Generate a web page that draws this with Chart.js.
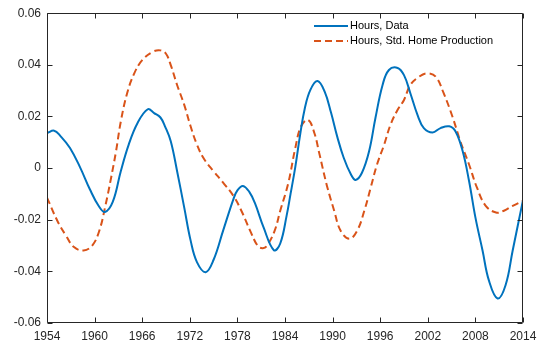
<!DOCTYPE html>
<html lang="en">
<head>
<meta charset="UTF-8">
<title>Hours: Data vs Std. Home Production</title>
<script src="https://cdn.jsdelivr.net/npm/chart.js"></script>
<style>
  html, body { margin: 0; padding: 0; background: #fff; }
  #wrap { width: 544px; height: 352px; }
</style>
</head>
<body>
<div id="wrap"><canvas id="hoursChart" width="544" height="352"></canvas></div>
<script>
// values
const dataYears = [1954.0, 1954.9, 1955.7, 1956.9, 1958.2, 1959.4, 1960.5, 1961.3, 1962.3, 1963.3,
  1964.3, 1965.4, 1966.7, 1967.5, 1968.3, 1968.9, 1969.6, 1970.4, 1971.3, 1972.1,
  1972.9, 1974.0, 1975.0, 1976.2, 1977.5, 1978.0, 1978.7, 1979.5, 1980.2, 1981.3,
  1982.6, 1983.4, 1984.2, 1984.7, 1985.3, 1985.9, 1986.5, 1987.2, 1988.1, 1989.0,
  1989.8, 1990.6, 1991.4, 1992.3, 1992.9, 1993.7, 1994.6, 1995.4, 1996.3, 1997.1,
  1998.2, 1999.0, 1999.8, 2000.7, 2001.5, 2002.6, 2003.6, 2004.7, 2005.5, 2006.4,
  2007.2, 2008.0, 2008.9, 2009.7, 2010.8, 2011.8, 2012.7, 2014.0];
const dataHours = [0.0136, 0.0145, 0.0124, 0.0078, 0.0001, -0.0082, -0.0146, -0.0170, -0.0130, -0.0012,
  0.0091, 0.0174, 0.0228, 0.0213, 0.0196, 0.0160, 0.0104, -0.0012, -0.0153, -0.0280,
  -0.0364, -0.0403, -0.0355, -0.0242, -0.0120, -0.0086, -0.0069, -0.0092, -0.0135, -0.0230,
  -0.0318, -0.0292, -0.0185, -0.0100, 0.0005, 0.0128, 0.0232, 0.0303, 0.0337, 0.0296,
  0.0215, 0.0120, 0.0040, -0.0024, -0.0046, -0.0018, 0.0065, 0.0194, 0.0322, 0.0380,
  0.0388, 0.0360, 0.0290, 0.0206, 0.0155, 0.0138, 0.0155, 0.0162, 0.0142, 0.0065,
  -0.0050, -0.0191, -0.0319, -0.0435, -0.0505, -0.0454, -0.0319, -0.0124];

const modelYears = [1954.0, 1955.3, 1956.4, 1957.4, 1958.6, 1959.7, 1960.6, 1961.4, 1962.0, 1962.7,
  1963.3, 1964.1, 1965.0, 1966.0, 1967.3, 1968.3, 1969.0, 1969.6, 1970.4, 1971.3,
  1972.1, 1972.9, 1973.8, 1975.0, 1976.2, 1977.5, 1978.5, 1979.6, 1980.6, 1981.2,
  1981.7, 1982.7, 1983.4, 1984.4, 1985.3, 1986.0, 1986.9, 1987.7, 1988.3, 1989.3,
  1990.2, 1991.0, 1992.1, 1993.1, 1994.0, 1994.8, 1995.6, 1996.5, 1997.3, 1998.2,
  1999.0, 1999.8, 2000.9, 2001.9, 2003.0, 2004.0, 2005.1, 2006.1, 2007.2, 2008.2,
  2009.3, 2010.6, 2011.6, 2012.7, 2014.0];
const modelHours = [-0.0114, -0.0204, -0.0262, -0.0306, -0.0319, -0.0300, -0.0242, -0.0140, -0.0050, 0.0065,
  0.0180, 0.0290, 0.0367, 0.0418, 0.0450, 0.0456, 0.0443, 0.0399, 0.0322, 0.0245,
  0.0162, 0.0091, 0.0035, -0.0012, -0.0056, -0.0108, -0.0165, -0.0242, -0.0303, -0.0310,
  -0.0302, -0.0242, -0.0165, -0.0060, 0.0078, 0.0160, 0.0187, 0.0136, 0.0060, -0.0070,
  -0.0165, -0.0242, -0.0274, -0.0242, -0.0165, -0.0076, 0.0014, 0.0091, 0.0168, 0.0226,
  0.0264, 0.0322, 0.0354, 0.0367, 0.0354, 0.0290, 0.0200, 0.0104, 0.0014, -0.0076,
  -0.0146, -0.0172, -0.0165, -0.0146, -0.0127];

const seriesLabels = ['Hours, Data', 'Hours, Std. Home Production'];
const xTicks = [1954, 1960, 1966, 1972, 1978, 1984, 1990, 1996, 2002, 2008, 2014];
const yTicks = [-0.06, -0.04, -0.02, 0, 0.02, 0.04, 0.06];

const AXIS = '#262626';
const FONT = 'Arial, "Liberation Sans", Helvetica, sans-serif';

function toPoints(xs, ys) {
  return xs.map((x, i) => ({ x: x, y: ys[i] }));
}

// MATLAB-style box: inward ticks on all four sides + legend inside the axes
const matlabBox = {
  id: 'matlabBox',
  afterDraw(chart) {
    const ctx = chart.ctx;
    const a = chart.chartArea;
    const xs = chart.scales.x, ys = chart.scales.y;
    const L = Math.round(a.left) + 0.5, R = Math.round(a.right) - 0.5;
    const T = Math.round(a.top) + 0.5, B = Math.round(a.bottom) - 0.5;
    const tl = 5;
    ctx.save();
    ctx.strokeStyle = AXIS;
    ctx.lineWidth = 1;
    ctx.beginPath();
    ctx.rect(L, T, R - L, B - T);
    xTicks.forEach(v => {
      const px = Math.round(xs.getPixelForValue(v)) + 0.5;
      ctx.moveTo(px, B); ctx.lineTo(px, B - tl);
      ctx.moveTo(px, T); ctx.lineTo(px, T + tl);
    });
    yTicks.forEach(v => {
      const py = Math.round(ys.getPixelForValue(v)) + 0.5;
      ctx.moveTo(L, py); ctx.lineTo(L + tl, py);
      ctx.moveTo(R, py); ctx.lineTo(R - tl, py);
    });
    ctx.stroke();

    // legend
    ctx.font = '11px ' + FONT;
    ctx.textBaseline = 'middle';
    ctx.fillStyle = '#000';
    const rows = [26, 41];
    chart.data.datasets.forEach((ds, i) => {
      const y = rows[i];
      ctx.strokeStyle = ds.borderColor;
      ctx.lineWidth = ds.borderWidth;
      ctx.setLineDash(ds.borderDash || []);
      ctx.beginPath();
      ctx.moveTo(314, y); ctx.lineTo(348, y);
      ctx.stroke();
      ctx.setLineDash([]);
      ctx.fillText(ds.label, 350, y);
    });
    ctx.restore();
  }
};

new Chart(document.getElementById('hoursChart'), {
  type: 'line',
  data: {
    datasets: [{
      label: seriesLabels[0],
      data: toPoints(dataYears, dataHours),
      borderColor: '#0072BD',
      borderWidth: 2,
      pointRadius: 0,
      tension: 0.4,
      fill: false
    }, {
      label: seriesLabels[1],
      data: toPoints(modelYears, modelHours),
      borderColor: '#D95319',
      borderWidth: 2,
      borderDash: [7, 4],
      pointRadius: 0,
      tension: 0.4,
      fill: false
    }]
  },
  options: {
    responsive: false,
    animation: false,
    devicePixelRatio: 1,
    layout: { padding: { top: 11, right: 21, left: 0, bottom: 0 } },
    plugins: {
      legend: { display: false },
      tooltip: { enabled: false }
    },
    scales: {
      x: {
        type: 'linear',
        min: 1954,
        max: 2014,
        afterBuildTicks: s => { s.ticks = xTicks.map(v => ({ value: v })); },
        afterFit: s => { s.height = 29; },
        grid: { display: false, drawTicks: false },
        border: { display: false },
        ticks: {
          padding: 6,
          maxRotation: 0,
          autoSkip: false,
          color: AXIS,
          font: { family: FONT, size: 12 },
          callback: v => String(v)
        }
      },
      y: {
        type: 'linear',
        min: -0.06,
        max: 0.06,
        afterBuildTicks: s => { s.ticks = yTicks.map(v => ({ value: v })); },
        afterFit: s => { s.width = 47; },
        grid: { display: false, drawTicks: false },
        border: { display: false },
        ticks: {
          padding: 6,
          autoSkip: false,
          color: AXIS,
          font: { family: FONT, size: 12 },
          callback: v => Math.abs(v) < 1e-9 ? '0' : v.toFixed(2)
        }
      }
    }
  },
  plugins: [matlabBox]
});
</script>
</body>
</html>
